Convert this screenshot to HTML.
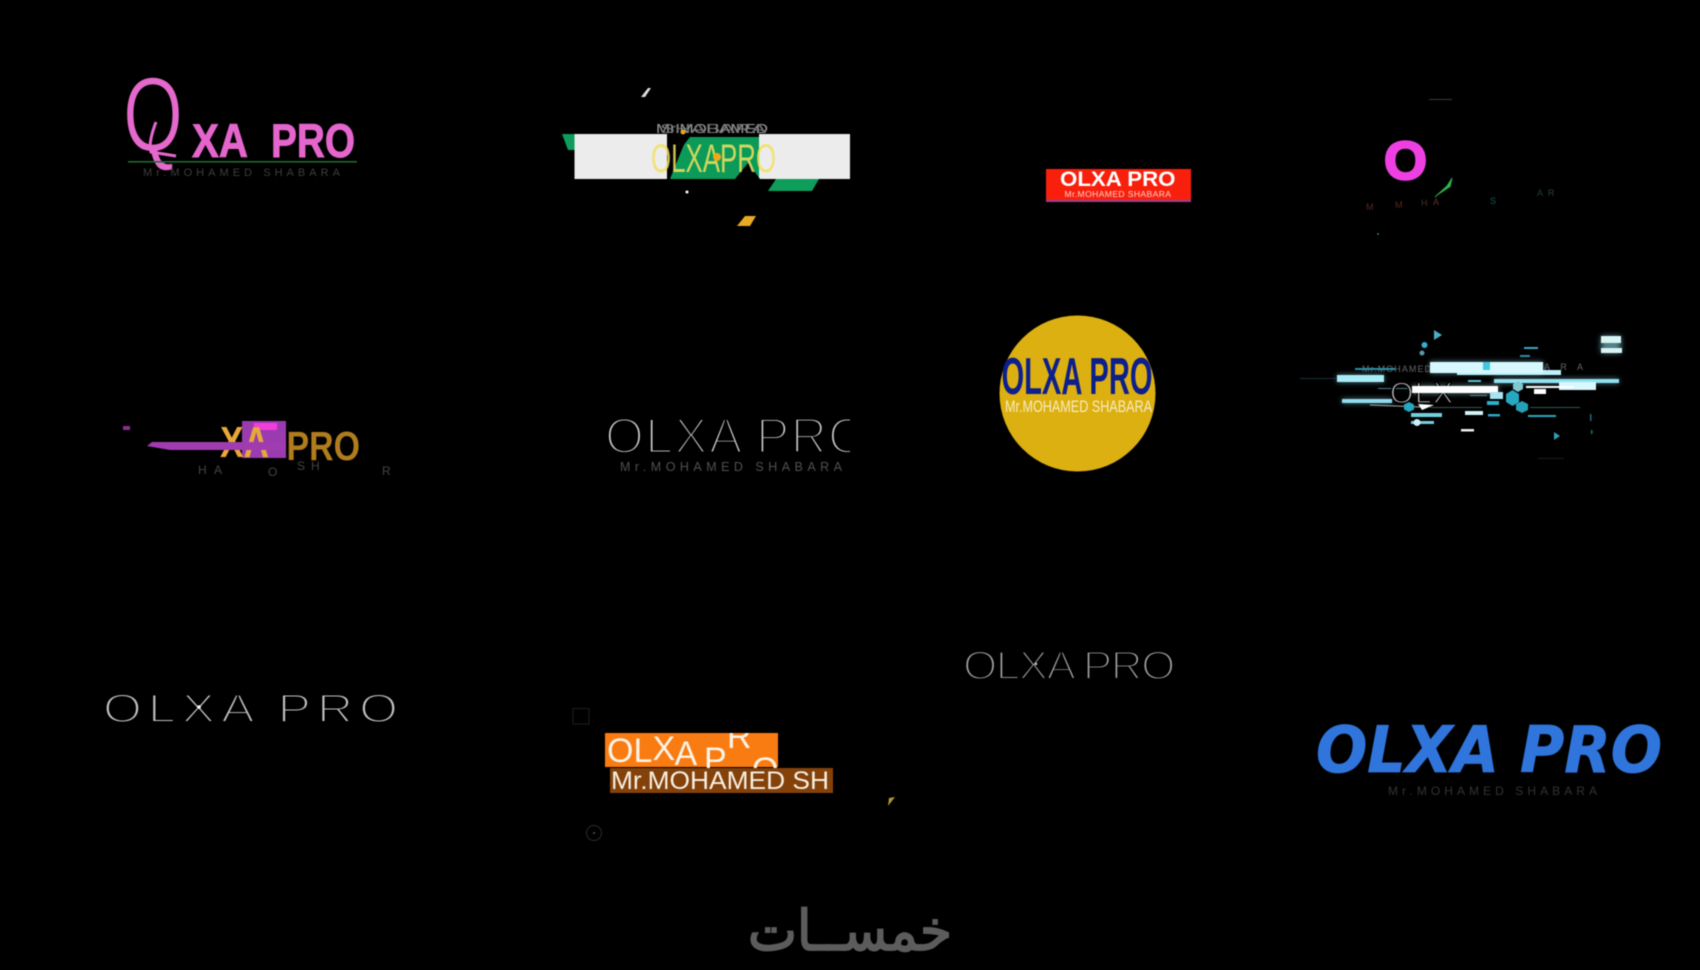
<!DOCTYPE html>
<html lang="en"><head><meta charset="utf-8"><title>OLXA PRO logos</title>
<style>
html,body{margin:0;padding:0;background:#000;width:1700px;height:970px;overflow:hidden}
svg{display:block;filter:blur(.4px)}
text{font-family:"Liberation Sans",sans-serif}
.b{font-weight:700}
.ar{font-family:"DejaVu Sans",sans-serif;font-weight:400}
</style></head><body>
<svg width="1700" height="970" viewBox="0 0 1700 970" xmlns="http://www.w3.org/2000/svg">
<defs>
<clipPath id="c6"><rect x="600" y="410" width="250" height="50"/></clipPath>
<clipPath id="c11"><rect x="605" y="733" width="173" height="35"/></clipPath>
<filter id="glow" x="-20%" y="-40%" width="140%" height="180%"><feGaussianBlur stdDeviation="3"/></filter>
</defs>
<rect width="1700" height="970" fill="#000"/>

<!-- 1 pink -->
<text x="123" y="151" font-size="106" textLength="60" lengthAdjust="spacingAndGlyphs" fill="#e568cc" stroke="#000" stroke-width="1.400">Q</text>
<path d="M156 122 C151 135 149 146 151 152 L176 156" stroke="#e568cc" stroke-width="3" fill="none"/>
<text class="b" x="192" y="157" font-size="47" textLength="56" lengthAdjust="spacingAndGlyphs" fill="#e465cc" stroke="#e465cc" stroke-width=".9">XA</text>
<text class="b" x="271" y="157" font-size="47" textLength="84" lengthAdjust="spacingAndGlyphs" fill="#e465cc" stroke="#e465cc" stroke-width=".9">PRO</text>
<rect x="128" y="161" width="229" height="1.600" fill="#1f6a30"/>
<text x="143" y="176" font-size="11" textLength="197" fill="#3d3d3d">Mr.MOHAMED SHABARA</text>

<!-- 2 green / white -->
<polygon points="562,134 576,134 576,150 568,150" fill="#0f9d5c"/>
<polygon points="687,137 760,137 760,179 733,179 670,179" fill="#0c9a58"/>
<polygon points="776,179 819,179 812,191 768,191" fill="#0f9d5c"/>
<rect x="574.500" y="134" width="92.500" height="45" fill="#ececec"/>
<rect x="759" y="134" width="91" height="45" fill="#ececec"/>
<polygon points="667,137 690,137 668,165" fill="#000"/>
<polygon points="735,179 748,163 760,179" fill="#000"/>
<text x="651" y="172" font-size="40" textLength="125" lengthAdjust="spacingAndGlyphs" fill="#f2e060" fill-opacity=".85">OLXAPRO</text>
<text x="656" y="133" font-size="13" textLength="112" lengthAdjust="spacingAndGlyphs" fill="#999">Mr.MOHAMED</text>
<text x="660" y="133" font-size="13" textLength="106" lengthAdjust="spacingAndGlyphs" fill="#777">SHABARA</text>
<circle cx="717" cy="157" r="4" fill="#f0a818"/>
<circle cx="683" cy="132" r="2.500" fill="#e8a820"/>
<circle cx="687" cy="192" r="1.500" fill="#fff"/>
<polygon points="641,97 648,88 651,88 645,97" fill="#ddd"/>
<polygon points="737,226 745,216 756,216 750,226" fill="#e8aa20"/>

<!-- 3 red -->
<rect x="1046" y="169" width="145" height="31" fill="#f8200c"/>
<rect x="1046" y="199.500" width="145" height="2.500" fill="#a83a78"/>
<text class="b" x="1060" y="186" font-size="21" textLength="115.500" lengthAdjust="spacingAndGlyphs" fill="#fff">OLXA PRO</text>
<text x="1064.500" y="197" font-size="8.600" textLength="106.500" fill="#ffd0c8">Mr.MOHAMED SHABARA</text>

<!-- 4 magenta O -->
<text class="b" x="1384" y="179" font-size="54" textLength="43" lengthAdjust="spacingAndGlyphs" fill="#ee40e2" stroke="#ee40e2" stroke-width="2.400">O</text>
<path d="M1435 197 L1447 186 L1452 178 L1450 187" stroke="#27a84a" stroke-width="1" fill="#2cc050"/>
<rect x="1429" y="99" width="23" height="1" fill="#3a3a3a"/>
<circle cx="1378" cy="234" r="1" fill="#1f8a70"/>
<g font-size="9">
<text x="1366" y="210" fill="#55281f">M</text><text x="1395" y="208" fill="#55281f">M</text>
<text x="1421" y="206" fill="#4a3028">H</text><text x="1433" y="205" fill="#6a3028">A</text>
<text x="1490" y="204" fill="#1a5a5a">S</text><text x="1537" y="196" fill="#223f30">A</text><text x="1548" y="196" fill="#224a30">R</text>
</g>

<!-- 5 glitch orange/purple -->
<rect x="123" y="426" width="7" height="4" fill="#8a3090"/>
<text class="b" x="286.500" y="460" font-size="41" textLength="73.500" lengthAdjust="spacingAndGlyphs" fill="#b07c1c">PRO</text>
<rect x="242" y="421" width="44" height="37" fill="#9a3cb0"/>
<rect x="254" y="423" width="23" height="7" fill="#ee40d8"/>
<text class="b" x="220" y="457" font-size="44" textLength="49" lengthAdjust="spacingAndGlyphs" fill="#e8a838">XA</text>
<polygon points="152,442 286,442 286,450 170,450 147,446" fill="#a03cb0"/>
<g font-size="12" fill="#444">
<text x="198" y="474">H</text><text x="214" y="474">A</text><text x="268" y="476">O</text>
<text x="297" y="470">S</text><text x="311" y="470">H</text><text x="382" y="475">R</text>
</g>

<!-- 6 thin clipped -->
<g clip-path="url(#c6)">
<text x="605" y="453" font-size="50" textLength="262" fill="#c8c8c8" stroke="#000" stroke-width="3">OLXA PRO</text>
</g>
<text x="620" y="471" font-size="12.500" textLength="222" fill="#505050">Mr.MOHAMED SHABARA</text>

<!-- 7 circle -->
<circle cx="1077.500" cy="393.500" r="78" fill="#dcb010"/>
<text class="b" x="1001.500" y="394" font-size="52" textLength="151" lengthAdjust="spacingAndGlyphs" fill="#0c1f8c">OLXA PRO</text>
<text x="1005" y="412" font-size="17" textLength="147" lengthAdjust="spacingAndGlyphs" fill="#f6ecc0">Mr.MOHAMED SHABARA</text>

<!-- 8 cyan glitch -->
<g filter="url(#glow)" opacity=".55">
<rect x="1430" y="362" width="113" height="11" fill="#9ef"/>
<rect x="1337" y="375" width="47" height="7" fill="#9ef"/>
<rect x="1412" y="386" width="86" height="7" fill="#bff"/>
<rect x="1494" y="379" width="125" height="4" fill="#9ef"/>
<rect x="1601" y="336" width="20" height="17" fill="#9ef"/>
<rect x="1342" y="399" width="50" height="4" fill="#9ef"/>
</g>
<g>
<text x="1362" y="372" font-size="9" textLength="69" fill="#666">Mr.MOHAMED</text>
<text x="1544" y="370" font-size="9" textLength="39" fill="#666">ARA</text>
<rect x="1355" y="368" width="40" height="2" fill="#2a8fa8"/>
<rect x="1457" y="370" width="104" height="5" fill="#bdf0fa"/>
<rect x="1430" y="362" width="113" height="11" fill="#d8f8ff"/>
<rect x="1483" y="362" width="7" height="8" fill="#40c8e0"/>
<rect x="1337" y="375" width="47" height="7" fill="#a8ecf8"/>
<rect x="1300" y="378" width="37" height="1" fill="#16323a"/>
<rect x="1494" y="379" width="125" height="4" fill="#90e0f0"/>
<rect x="1559" y="382" width="37" height="8" fill="#d8f8ff"/>
<rect x="1378" y="388" width="120" height="1" fill="#4a7a88"/>
<text x="1390" y="403" font-size="30" textLength="63" fill="#bbb" stroke="#000" stroke-width="1.400">OLX</text>
<rect x="1412" y="386" width="86" height="7" fill="#fff"/>
<rect x="1490" y="392" width="13" height="7" fill="#a8e4f0"/>
<rect x="1526" y="386" width="48" height="2" fill="#fff"/>
<rect x="1534" y="389" width="12" height="5" fill="#fff"/>
<rect x="1342" y="399" width="50" height="4" fill="#90dcec"/>
<rect x="1601" y="336" width="20" height="7" fill="#d8f4f4"/>
<rect x="1601" y="348" width="21" height="5" fill="#d8f4f4"/>
<rect x="1524" y="347" width="14" height="2" fill="#3aa8c0"/>
<rect x="1520" y="355" width="10" height="2" fill="#2a8ea8"/>
<rect x="1468" y="380" width="13" height="2" fill="#5ac0d0"/>
<rect x="1465" y="411" width="18" height="4" fill="#d0f4f4"/>
<rect x="1488" y="414" width="12" height="2.500" fill="#2aa8c0"/>
<rect x="1487" y="401" width="12" height="4" fill="#2ab0c8"/>
<rect x="1470" y="395" width="17" height="1" fill="#5a8a98"/>
<rect x="1411" y="413" width="31" height="4" fill="#70d0e0"/>
<rect x="1411" y="421" width="23" height="3" fill="#70d0e0"/>
<circle cx="1417" cy="422.500" r="3.500" fill="#cfeff5"/>
<rect x="1461" y="429" width="13" height="2.500" fill="#eee"/>
<rect x="1528" y="415" width="28" height="2" fill="#2aa8c0"/>
<rect x="1530" y="407" width="50" height="1" fill="#355"/>
<rect x="1430" y="407" width="52" height="1" fill="#355"/>
<rect x="1590" y="414" width="1.500" height="7" fill="#1e6c80"/>
<rect x="1591" y="430" width="1.500" height="4" fill="#1e6c80"/>
<rect x="1538" y="458" width="26" height="1" fill="#1c1c1c"/>
<path d="M1370 405 L1420 407" stroke="#aaa" stroke-width="1"/>
<polygon points="1418,404 1434,405 1422,410" fill="#fff"/>
<polygon points="1512.500,390 1519,394 1519,402 1512.500,406 1506,402 1506,394" fill="#25a8c0"/>
<polygon points="1522,401 1528,404 1528,410 1522,413 1516,410 1516,404" fill="#25a0b8"/>
<polygon points="1409,402 1414,404.500 1414,409.500 1409,412 1404,409.500 1404,404.500" fill="#25a8c0"/>
<polygon points="1518,381 1523,384 1523,389 1518,392 1513,389 1513,384" fill="#80c8d0"/>
<polygon points="1434,330 1442,335 1434,340" fill="#4ab0c8"/>
<polygon points="1554,432 1560,436 1554,440" fill="#30a0b8"/>
<circle cx="1424.500" cy="345" r="3" fill="#30b0d0"/>
<circle cx="1422" cy="353" r="2.500" fill="#5a9aa8"/>
</g>

<!-- 9 thin -->
<g transform="translate(103,722) scale(1.25,1)">
<text x="0" y="0" font-size="40" textLength="236" fill="#c0c0c0" stroke="#000" stroke-width="2">OLXA PRO</text>
</g>
<circle cx="199" cy="707" r="1.800" fill="#fff"/>

<!-- 10 thin -->
<g transform="translate(963,679) scale(1.1,1)">
<text x="0" y="0" font-size="40" textLength="193" fill="#a0a0a0" stroke="#000" stroke-width="2.200">OLXA PRO</text>
</g>
<circle cx="1036" cy="664" r="1.200" fill="#ccc"/>

<!-- 11 orange -->
<rect x="605" y="733" width="173" height="34" fill="#f97c12"/>
<g clip-path="url(#c11)" fill="#fbf3e6" font-size="34">
<text x="607" y="762">OL</text>
<text x="652.500" y="760">X</text>
<text x="674.500" y="765">A</text>
<text x="704" y="771">P</text>
<text x="727" y="748">R</text>
<text x="752" y="781">O</text>
</g>
<rect x="610" y="768" width="223" height="25" fill="#84410a"/>
<text x="611" y="789" font-size="25" textLength="218" lengthAdjust="spacingAndGlyphs" fill="#f6efe2">Mr.MOHAMED SH</text>
<rect x="573" y="708.500" width="16" height="15.500" fill="none" stroke="#1e1e1e"/>
<circle cx="594" cy="833" r="7.500" fill="none" stroke="#2c2c2c"/>
<circle cx="594" cy="833" r="1" fill="#555"/>
<polygon points="888,806 889,798 895,797" fill="#b09a30"/>

<!-- 12 blue -->
<text x="1316" y="772" font-size="64" textLength="346" lengthAdjust="spacingAndGlyphs" fill="#2f75dc" stroke="#2f75dc" stroke-width=".8" style="font-family:'DejaVu Sans',sans-serif;font-weight:700;font-style:oblique">OLXA PRO</text>
<text x="1388" y="795" font-size="12" textLength="209" fill="#333">Mr.MOHAMED SHABARA</text>

<!-- watermark -->
<text class="ar" x="850" y="950" font-size="56" text-anchor="middle" direction="rtl" textLength="204" lengthAdjust="spacingAndGlyphs" fill="#5c5c5c" stroke="#5c5c5c" stroke-width="1.800" lang="ar">خمســات</text>
</svg>
</body></html>
